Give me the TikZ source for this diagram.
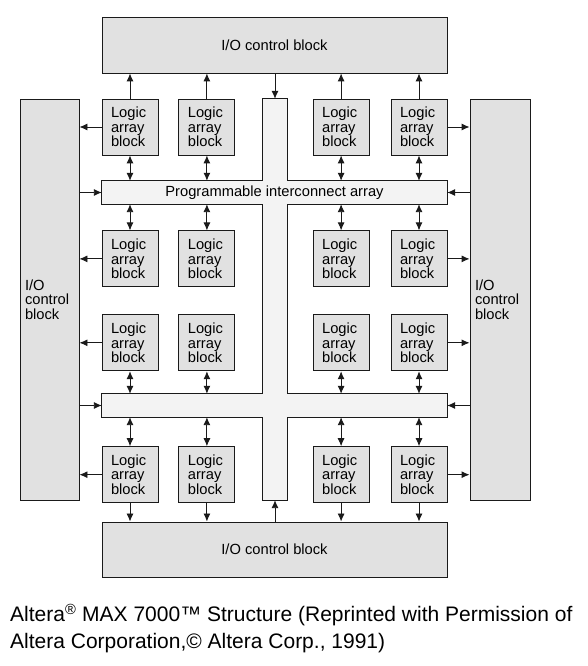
\documentclass[tikz,border=0pt]{standalone}
\usepackage{fontspec}
\setmainfont{Liberation Sans}
\usetikzlibrary {arrows.meta,
                 backgrounds,
                 positioning}
\definecolor{blockgray}{HTML}{E1E1E1}
\definecolor{piagray}{HTML}{F3F3F3}
\definecolor{linegray}{HTML}{1A1A1A}
\tikzset{
        base/.style={draw=linegray, line width=0.9pt, align=center,
                     font=\fontsize{14.7}{14.5}\selectfont},
        io/.style={base, rectangle, fill=blockgray},
        sideio/.style={io, align=left, text width=49pt, inner xsep=5pt,
                       minimum height=401pt},
        lab/.style={base, rectangle, fill=blockgray, align=left,
                    text width=38pt, inner xsep=9pt, minimum height=56pt},
        bar/.style={rectangle, inner sep=0pt,
                    font=\fontsize{14.7}{14.5}\selectfont},
        myarrow/.style={-{Latex[length=8pt, width=7pt]}, draw=linegray,
                        line width=0.9pt},
        twoway/.style={{Latex[length=8pt, width=7pt]}-{Latex[length=8pt, width=7pt]},
                       draw=linegray, line width=0.9pt},
 }

\begin{document}
\begin{tikzpicture}[x=1pt, y=1pt]
    \useasboundingbox (0,0) rectangle (588,666);

    \node[io, minimum width=345pt, minimum height=56pt] (topio) at (274.5,621) {I/O control block};
    \node[io, minimum width=345pt, minimum height=55pt] (botio) at (274.5,116.5) {I/O control block};
    \node[sideio] (leftio) at (49.5,366.5) {I/O\\control\\block};
    \node[sideio, text width=50pt] (rightio) at (500,366.5) {I/O\\control\\block};

    \node[bar, minimum width=24pt, minimum height=401pt] (vbar) at (275,366.5) {};
    \node[bar, minimum width=345pt, minimum height=23pt] (pia) at (274.5,473.5) {Programmable interconnect array};
    \node[bar, minimum width=345pt, minimum height=23pt] (pib) at (274.5,260.5) {};

    \node[lab] (lab11) at (130,539) {Logic\\array\\block};
    \node[lab, right=20pt of lab11] (lab12) {Logic\\array\\block};
    \node[lab] (lab14) at (419,539) {Logic\\array\\block};
    \node[lab, left=21pt of lab14] (lab13) {Logic\\array\\block};

    \node[lab, below=75pt of lab11] (lab21) {Logic\\array\\block};
    \node[lab, below=75pt of lab12] (lab22) {Logic\\array\\block};
    \node[lab, below=75pt of lab13] (lab23) {Logic\\array\\block};
    \node[lab, below=75pt of lab14] (lab24) {Logic\\array\\block};

    \node[lab, below=27pt of lab21] (lab31) {Logic\\array\\block};
    \node[lab, below=27pt of lab22] (lab32) {Logic\\array\\block};
    \node[lab, below=27pt of lab23] (lab33) {Logic\\array\\block};
    \node[lab, below=27pt of lab24] (lab34) {Logic\\array\\block};

    \node[lab, below=75pt of lab31] (lab41) {Logic\\array\\block};
    \node[lab, below=75pt of lab32] (lab42) {Logic\\array\\block};
    \node[lab, below=75pt of lab33] (lab43) {Logic\\array\\block};
    \node[lab, below=75pt of lab34] (lab44) {Logic\\array\\block};

    % interconnect outline behind the labels
    \begin{scope}[on background layer]
    \draw[draw=linegray, line width=0.9pt, fill=piagray]
        (vbar.north west) -- (vbar.north east) -- (vbar.east |- pia.north)
        -- (pia.north east) -- (pia.south east) -- (vbar.east |- pia.south)
        -- (vbar.east |- pib.north) -- (pib.north east) -- (pib.south east)
        -- (vbar.east |- pib.south) -- (vbar.south east) -- (vbar.south west)
        -- (vbar.west |- pib.south) -- (pib.south west) -- (pib.north west)
        -- (vbar.west |- pib.north) -- (vbar.west |- pia.south)
        -- (pia.south west) -- (pia.north west) -- (vbar.west |- pia.north)
        -- cycle;
    \end{scope}

    % top and bottom I/O
    \draw[myarrow] (lab11.north) -- (lab11.north |- topio.south);
    \draw[myarrow] (lab12.north) -- (lab12.north |- topio.south);
    \draw[myarrow] (lab13.north) -- (lab13.north |- topio.south);
    \draw[myarrow] (lab14.north) -- (lab14.north |- topio.south);
    \draw[myarrow] (topio.south -| vbar.north) -- (vbar.north);
    \draw[myarrow] (lab41.south) -- (lab41.south |- botio.north);
    \draw[myarrow] (lab42.south) -- (lab42.south |- botio.north);
    \draw[myarrow] (lab43.south) -- (lab43.south |- botio.north);
    \draw[myarrow] (lab44.south) -- (lab44.south |- botio.north);
    \draw[myarrow] (botio.north -| vbar.south) -- (vbar.south);

    % side I/O
    \draw[myarrow] (lab11.west) -- (lab11.west -| leftio.east);
    \draw[myarrow] (lab21.west) -- (lab21.west -| leftio.east);
    \draw[myarrow] (lab31.west) -- (lab31.west -| leftio.east);
    \draw[myarrow] (lab41.west) -- (lab41.west -| leftio.east);
    \draw[myarrow] (lab14.east) -- (lab14.east -| rightio.west);
    \draw[myarrow] (lab24.east) -- (lab24.east -| rightio.west);
    \draw[myarrow] (lab34.east) -- (lab34.east -| rightio.west);
    \draw[myarrow] (lab44.east) -- (lab44.east -| rightio.west);
    \draw[myarrow] (leftio.east |- pia.west) -- (pia.west);
    \draw[myarrow] (rightio.west |- pia.east) -- (pia.east);
    \draw[myarrow] (leftio.east |- pib.west) -- (pib.west);
    \draw[myarrow] (rightio.west |- pib.east) -- (pib.east);

    % labs to interconnect
    \draw[twoway] (lab11.south) -- (lab11.south |- pia.north);
    \draw[twoway] (lab12.south) -- (lab12.south |- pia.north);
    \draw[twoway] (lab13.south) -- (lab13.south |- pia.north);
    \draw[twoway] (lab14.south) -- (lab14.south |- pia.north);
    \draw[twoway] (lab21.north) -- (lab21.north |- pia.south);
    \draw[twoway] (lab22.north) -- (lab22.north |- pia.south);
    \draw[twoway] (lab23.north) -- (lab23.north |- pia.south);
    \draw[twoway] (lab24.north) -- (lab24.north |- pia.south);
    \draw[twoway] (lab31.south) -- (lab31.south |- pib.north);
    \draw[twoway] (lab32.south) -- (lab32.south |- pib.north);
    \draw[twoway] (lab33.south) -- (lab33.south |- pib.north);
    \draw[twoway] (lab34.south) -- (lab34.south |- pib.north);
    \draw[twoway] (lab41.north) -- (lab41.north |- pib.south);
    \draw[twoway] (lab42.north) -- (lab42.north |- pib.south);
    \draw[twoway] (lab43.north) -- (lab43.north |- pib.south);
    \draw[twoway] (lab44.north) -- (lab44.north |- pib.south);

    \node[anchor=north west, align=left, inner sep=0pt,
          font=\fontsize{21}{26.5}\selectfont] (caption) at (10,62)
          {Altera\textsuperscript{®} MAX 7000™ Structure (Reprinted with Permission of\\
           Altera Corporation,© Altera Corp., 1991)};
\end{tikzpicture}
\end{document}
